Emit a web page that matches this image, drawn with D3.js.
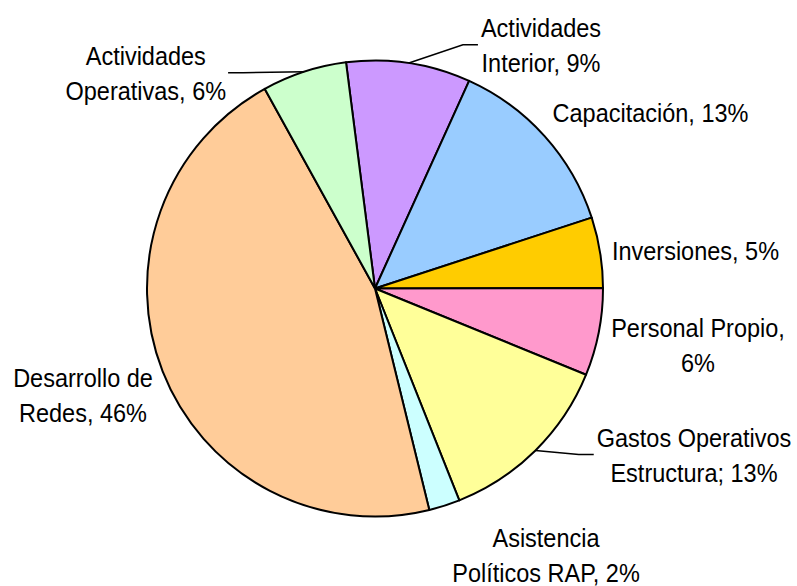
<!DOCTYPE html>
<html>
<head>
<meta charset="utf-8">
<script src="https://cdn.jsdelivr.net/npm/d3@7"></script>
<style>
    body { margin: 0; background: #fff; }
    .etiqueta { font-family: "Liberation Sans Narrow", "Arial Narrow", "Liberation Sans", Arial, sans-serif; font-size: 25px; fill: #000; }
    .guia { fill: none; stroke: #000; stroke-width: 1.6; }
    .rebanada { stroke: #000; stroke-width: 2; stroke-linejoin: round; }
</style>
</head>
<body>
<svg id="grafico" width="797" height="586"></svg>
<script>
// datos del grafico
const categorias = [
    'Actividades Interior', 'Capacitación', 'Inversiones', 'Personal Propio',
    'Gastos Operativos Estructura', 'Asistencia Políticos RAP',
    'Desarrollo de Redes', 'Actividades Operativas'
];
const valores = [8.8, 13.2, 5.0, 6.2, 12.8, 2.2, 45.8, 6.0];
const etiquetas = [
    ['Actividades', 'Interior, 9%'],
    ['Capacitación, 13%'],
    ['Inversiones, 5%'],
    ['Personal Propio,', '6%'],
    ['Gastos Operativos', 'Estructura; 13%'],
    ['Asistencia', 'Políticos RAP, 2%'],
    ['Desarrollo de', 'Redes, 46%'],
    ['Actividades', 'Operativas, 6%']
];

// estilo y posicion
const colores = ['#CC99FF', '#99CCFF', '#FFCC00', '#FF99CC', '#FFFF99', '#CCFFFF', '#FFCC99', '#CCFFCC'];
// posicion de cada etiqueta respecto al centro: [dx, dy de la primera linea, con guia]
const pos_etiquetas = [
    [166, -251.5, true],
    [275.5, -166.8, false],
    [320.5, -28.5, false],
    [323, 48.5, false],
    [319, 158.2, true],
    [171, 258.2, false],
    [-292, 98.2, false],
    [-229.2, -223.5, true]
];
const CENTRO_X = 375;
const CENTRO_Y = 288.5;
const RADIO = 228;
const INTERLINEA = 35;
const ESCALA_X = 0.94;   // la fuente original es mas angosta
const ANGULO_INICIO = -7.3 * Math.PI / 180;

function dibujar_torta(svg) {
    const pie = d3.pie()
        .sort(null)
        .value(d => d)
        .startAngle(ANGULO_INICIO)
        .endAngle(ANGULO_INICIO + 2 * Math.PI);
    const arco = d3.arc().innerRadius(0).outerRadius(RADIO);
    const arcos = pie(valores);

    const g = svg.append('g')
        .attr('transform', `translate(${CENTRO_X},${CENTRO_Y})`);

    g.selectAll('path')
        .data(arcos)
        .join('path')
        .attr('class', 'rebanada')
        .attr('fill', (d, i) => colores[i])
        .attr('d', arco);

    // etiquetas
    arcos.forEach((d, i) => {
        const p = pos_etiquetas[i];
        const grupo = g.append('g')
            .attr('transform', `translate(${p[0]},${p[1]}) scale(${ESCALA_X},1)`);
        const texto = grupo.append('text')
            .attr('class', 'etiqueta')
            .attr('text-anchor', 'middle');
        etiquetas[i].forEach((linea, j) => {
            texto.append('tspan')
                .attr('x', 0)
                .attr('dy', j == 0 ? 0 : INTERLINEA)
                .text(linea);
        });

        if (!p[2]) return;
        // linea guia desde el borde de la rebanada hasta el lado de la etiqueta
        const b = texto.node().getBBox();
        const caja_x = p[0] + b.x * ESCALA_X;
        const caja_w = b.width * ESCALA_X;
        const medio = (d.startAngle + d.endAngle) / 2;
        const x0 = Math.sin(medio) * RADIO;
        const y0 = -Math.cos(medio) * RADIO;
        const a_la_derecha = caja_x > x0;
        const borde = a_la_derecha ? caja_x - 3 : caja_x + caja_w + 2;
        const medio_y = p[1] + b.y + b.height / 2 - 1;
        const tramo = a_la_derecha ? -15 : 15;
        g.insert('path', 'g')
            .attr('class', 'guia')
            .attr('d', d3.line()([[x0, y0], [borde + tramo, medio_y], [borde, medio_y]]));
    });
}

dibujar_torta(d3.select('#grafico'));
</script>
</body>
</html>
